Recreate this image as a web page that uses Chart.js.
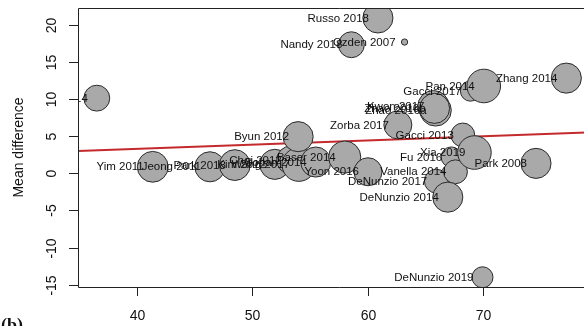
<!DOCTYPE html>
<html><head><meta charset="utf-8">
<script src="https://cdn.jsdelivr.net/npm/chart.js@4"></script>
<style>
html,body{margin:0;padding:0;background:#fff;overflow:hidden;width:584px;height:326px}
canvas{display:block}
</style></head><body>
<canvas id="c" width="600" height="326"></canvas>
<script>
// Meta-regression bubble plot: study mean difference against the moderator
const studies = [
  "Kaplan 2014", "Yim 2011", "Jeong 2011", "Park 2018", "Kim 2012", "Choi 2012",
  "Wang 2017", "Sohan 2014", "Baser 2014", "Byun 2012", "Yoon 2016", "Zorba 2017",
  "Kwon 2017", "Zhao 2016a", "Zhao 2016b", "Gacci 2017", "Pan 2014", "Zhang 2014",
  "Russo 2018", "Nandy 2018", "Ozden 2007", "Fu 2016", "DeNunzio 2017", "Vanella 2014",
  "DeNunzio 2014", "Gacci 2013", "Xia 2019", "Park 2008", "DeNunzio 2019"
];
const moderator = [
  36.51, 41.36, 46.32, 48.48, 51.95, 53.33,
  54.03, 55.50, 58.01, 53.97, 60.03, 62.62,
  65.71, 65.89, 65.80, 68.92, 70.07, 77.23,
  60.89, 58.59, 63.20, 67.25, 65.95, 67.62,
  66.95, 68.25, 69.26, 74.60, 69.96
];
const meanDiff = [
  10.14, 0.89, 0.89, 1.12, 1.22, 1.80,
  1.19, 1.53, 2.20, 4.95, 0.22, 6.53,
  9.04, 8.50, 8.76, 11.10, 11.78, 12.84,
  20.95, 17.34, 17.70, 2.20, -1.04, 0.22,
  -3.20, 5.18, 2.81, 1.35, -14.00
];
const weights = [
  3.7, 4.4, 4.3, 4.4, 4.3, 4.0,
  4.8, 4.3, 4.6, 4.3, 4.0, 4.0,
  4.5, 4.5, 4.3, 2.9, 4.8, 4.3,
  4.3, 3.7, 0.9, 2.9, 3.4, 3.4,
  4.3, 3.4, 4.8, 4.3, 3.0
];
const xTicks = [40, 50, 60, 70];
const yTicks = [-15, -10, -5, 0, 5, 10, 15, 20];
const fitIntercept = 1.039;
const fitSlope = 0.0565;

const X_MIN = 34.88, X_MAX = 80.15, Y_MIN = -15.31, Y_MAX = 22.29;
const fit = x => fitIntercept + fitSlope * x;

const bubbles = studies.map((s, i) => ({ x: moderator[i], y: meanDiff[i], r: weights[i] * 3.5 }));

const LABEL_FONT = '11.5px "Liberation Sans", Arial, sans-serif';
const AXIS_FONT = '14px "Liberation Sans", Arial, sans-serif';

const frame = {
  id: 'frame',
  afterDatasetsDraw(chart) {
    const ctx = chart.ctx, a = chart.chartArea;
    const meta = chart.getDatasetMeta(1);
    ctx.save();
    ctx.beginPath();
    ctx.rect(a.left, a.top, a.right - a.left, a.bottom - a.top);
    ctx.clip();
    ctx.font = LABEL_FONT;
    ctx.fillStyle = '#111';
    ctx.textAlign = 'right';
    ctx.textBaseline = 'middle';
    meta.data.forEach((el, i) => {
      ctx.fillText(studies[i], el.x - 9, el.y + 0.5);
    });
    ctx.restore();
  },
  afterDraw(chart) {
    const ctx = chart.ctx, a = chart.chartArea;
    const xs = chart.scales.x, ys = chart.scales.y;
    ctx.save();
    ctx.strokeStyle = '#222';
    ctx.lineWidth = 1;
    ctx.beginPath();
    ctx.moveTo(a.right + 5, a.top + 0.5);
    ctx.lineTo(a.left + 0.5, a.top + 0.5);
    ctx.lineTo(a.left + 0.5, a.bottom + 0.5);
    ctx.lineTo(a.right + 5, a.bottom + 0.5);
    ctx.stroke();

    ctx.fillStyle = '#111';
    ctx.font = AXIS_FONT;
    // x axis ticks
    ctx.textAlign = 'center';
    ctx.textBaseline = 'alphabetic';
    xTicks.forEach(v => {
      const px = Math.round(xs.getPixelForValue(v)) + 0.5;
      ctx.beginPath();
      ctx.moveTo(px, a.bottom);
      ctx.lineTo(px, a.bottom + 9);
      ctx.stroke();
      ctx.fillText(String(v), px, 319.5);
    });
    // y axis ticks, labels rotated
    yTicks.forEach(v => {
      const py = Math.round(ys.getPixelForValue(v)) + 0.5;
      ctx.beginPath();
      ctx.moveTo(a.left - 9, py);
      ctx.lineTo(a.left, py);
      ctx.stroke();
      ctx.save();
      ctx.translate(56, py);
      ctx.rotate(-Math.PI / 2);
      ctx.fillText(String(v), 0, 0);
      ctx.restore();
    });
    // y axis title
    ctx.save();
    ctx.translate(23, 147.5);
    ctx.rotate(-Math.PI / 2);
    ctx.fillText('Mean difference', 0, 0);
    ctx.restore();
    // panel tag
    ctx.textAlign = 'left';
    ctx.font = 'bold 18px "Liberation Serif", "Times New Roman", serif';
    ctx.fillText('(b)', 1, 331);
    ctx.restore();
  }
};

new Chart(document.getElementById('c'), {
  data: {
    datasets: [
      {
        type: 'line',
        data: [{ x: X_MIN, y: fit(X_MIN) }, { x: X_MAX, y: fit(X_MAX) }],
        borderColor: '#c42a2c',
        borderWidth: 2,
        pointRadius: 0,
        fill: false,
        order: 2
      },
      {
        type: 'bubble',
        data: bubbles,
        backgroundColor: '#a9a9a9',
        borderColor: '#2a2a2a',
        borderWidth: 1,
        order: 1
      }
    ]
  },
  options: {
    responsive: false,
    animation: false,
    events: [],
    layout: { autoPadding: false, padding: { left: 78, top: 8, right: 0, bottom: 39 } },
    plugins: { legend: { display: false }, tooltip: { enabled: false } },
    scales: {
      x: { type: 'linear', min: X_MIN, max: X_MAX, display: false },
      y: { type: 'linear', min: Y_MIN, max: Y_MAX, display: false }
    }
  },
  plugins: [frame]
});
</script>
</body></html>
